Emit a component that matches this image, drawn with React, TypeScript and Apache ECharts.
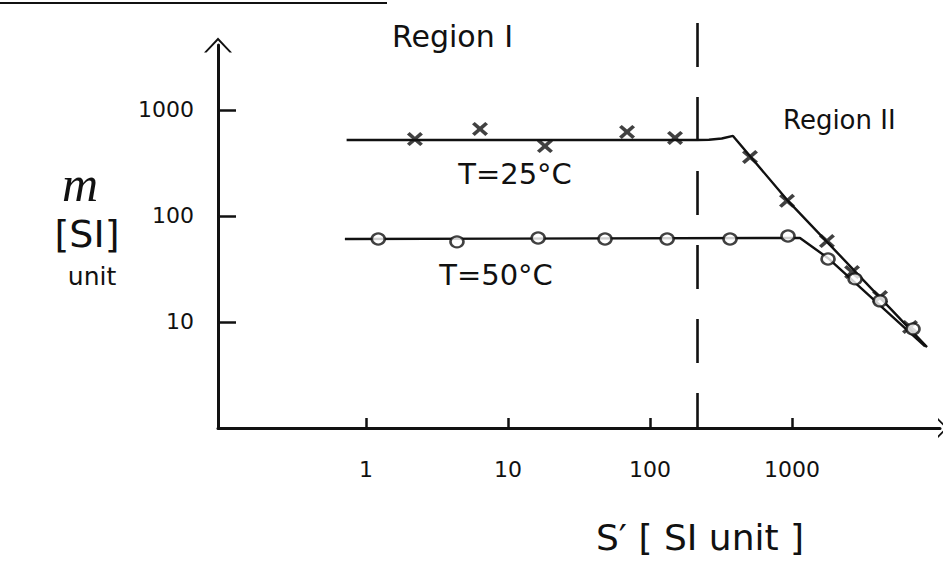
import React, { useEffect, useRef } from "react";
import * as echarts from "echarts";

// ---- data ----
const xTickValues = [1, 10, 100, 1000];
const xTickLabels = ["1", "10", "100", "1000"];
const yTickValues = [10, 100, 1000];
const yTickLabels = ["10", "100", "1000"];

const xRange = [0.0907, 11020];
const yRange = [1, 4100];

// fitted line through T = 25 °C measurements
const t25Line: [number, number][] = [
  [0.73, 520], [216, 520], [260, 524], [320, 538], [384, 569], [922, 142], [8930, 5.8],
];
// measured points T = 25 °C (crosses)
const t25Points: [number, number][] = [
  [2.21, 532], [6.35, 662], [18.2, 457], [68.9, 620], [150, 545],
  [506, 360], [922, 139], [1762, 58], [2648, 29.6], [4170, 17.2], [6776, 8.97],
];
// fitted line through T = 50 °C measurements
const t50Line: [number, number][] = [
  [0.71, 60.7], [1138, 62], [1794, 40], [8650, 5.9],
];
// measured points T = 50 °C (circles)
const t50Points: [number, number][] = [
  [1.22, 60.7], [4.37, 57], [16.3, 62], [48.2, 60.7], [132, 60.7], [366, 60.7],
  [937, 64.7], [1794, 39.3], [2780, 25.5], [4170, 15.8], [7115, 8.6],
];
// boundary between Region I and Region II
const boundaryS = 216;
const boundaryLine: [number, number][] = [[boundaryS, 6620], [boundaryS, 1]];

const INK = "#111";
const FONT = "DejaVu Sans";

const crossPath =
  "path://M0,1.7 L1.7,0 L5,3.3 L8.3,0 L10,1.7 L6.7,5 L10,8.3 L8.3,10 L5,6.7 L1.7,10 L0,8.3 L3.3,5 Z";
const xArrow = "path://M0,10 L10,0 L20,10 L17.5,10 L10,2.5 L2.5,10 Z";
const yArrow = "path://M0,15 L14,0 L28,15 L25.5,15 L14,3 L2.5,15 Z";

export default function App() {
  const ref = useRef<HTMLDivElement>(null);
  useEffect(() => {
    if (!ref.current) return;
    const chart = echarts.init(ref.current, undefined, { renderer: "svg" });
    const fmtX = (v: number) => {
      const i = xTickValues.findIndex((t) => Math.abs(t - v) / t < 1e-6);
      return i >= 0 ? xTickLabels[i] : "";
    };
    const fmtY = (v: number) => {
      const i = yTickValues.findIndex((t) => Math.abs(t - v) / t < 1e-6);
      return i >= 0 ? yTickLabels[i] : "";
    };
    const txt = (
      text: string,
      x: number,
      y: number,
      font: string,
      align: string = "center"
    ) => ({
      type: "text",
      x,
      y,
      style: { text, fill: INK, font, textAlign: align, textVerticalAlign: "middle" },
    });
    chart.setOption({
      animation: false,
      backgroundColor: "#fff",
      grid: { left: 218, top: 45, width: 722, height: 383, containLabel: false },
      xAxis: {
        type: "log",
        logBase: 10,
        min: xRange[0],
        max: xRange[1],
        axisLine: {
          show: true,
          symbol: ["none", xArrow],
          symbolSize: [20, 10],
          symbolOffset: [0, 3],
          lineStyle: { color: INK, width: 3 },
        },
        axisTick: {
          show: true,
          inside: true,
          length: 10,
          customValues: xTickValues,
          lineStyle: { color: INK, width: 2.5 },
        },
        minorTick: { show: false },
        axisLabel: {
          show: true,
          customValues: xTickValues,
          formatter: fmtX,
          margin: 30,
          color: INK,
          fontFamily: FONT,
          fontSize: 22,
        },
        splitLine: { show: false },
      },
      yAxis: {
        type: "log",
        logBase: 10,
        min: yRange[0],
        max: yRange[1],
        axisLine: {
          show: true,
          symbol: ["none", yArrow],
          symbolSize: [28, 15],
          lineStyle: { color: INK, width: 3 },
        },
        axisTick: {
          show: true,
          inside: true,
          length: 18,
          customValues: yTickValues,
          lineStyle: { color: INK, width: 2.5 },
        },
        minorTick: { show: false },
        axisLabel: {
          show: true,
          customValues: yTickValues,
          formatter: fmtY,
          margin: 24,
          color: INK,
          fontFamily: FONT,
          fontSize: 22,
        },
        splitLine: { show: false },
      },
      series: [
        {
          name: "boundary",
          type: "line",
          data: boundaryLine,
          clip: false,
          symbol: "none",
          lineStyle: { color: INK, width: 2.6, type: [44, 30] },
          silent: true,
          z: 1,
        },
        {
          name: "T=25°C fit",
          type: "line",
          data: t25Line,
          symbol: "none",
          lineStyle: { color: INK, width: 2.4 },
          z: 2,
        },
        {
          name: "T=50°C fit",
          type: "line",
          data: t50Line,
          symbol: "none",
          lineStyle: { color: INK, width: 2.4 },
          z: 2,
        },
        {
          name: "T=25°C",
          type: "scatter",
          data: t25Points,
          symbol: crossPath,
          symbolSize: [16, 14],
          itemStyle: { color: INK },
          z: 3,
        },
        {
          name: "T=50°C",
          type: "scatter",
          data: t50Points,
          symbol: "circle",
          symbolSize: [13, 11],
          itemStyle: { color: "#fff", borderColor: INK, borderWidth: 2.4 },
          z: 3,
        },
      ],
      graphic: [
        {
          type: "line",
          shape: { x1: 0, y1: 3, x2: 387, y2: 3 },
          style: { stroke: INK, lineWidth: 2 },
        },
        txt("Region I", 392, 36, `30px "${FONT}"`, "left"),
        txt("Region II", 783, 120, `26px "${FONT}"`, "left"),
        txt("T=25°C", 515, 174, `29px "${FONT}"`),
        txt("T=50°C", 496, 275, `29px "${FONT}"`),
        txt("m", 80, 184, `italic 50px "Liberation Serif"`),
        txt("[SI]", 87, 234, `38px "${FONT}"`),
        txt("unit", 92, 276, `25px "${FONT}"`),
        txt("S′ [ SI unit ]", 700, 537, `36px "${FONT}"`),
      ],
    });
    return () => chart.dispose();
  }, []);
  return (
    <div
      ref={ref}
      style={{ position: "absolute", left: 0, top: 0, width: 943, height: 564 }}
    />
  );
}
